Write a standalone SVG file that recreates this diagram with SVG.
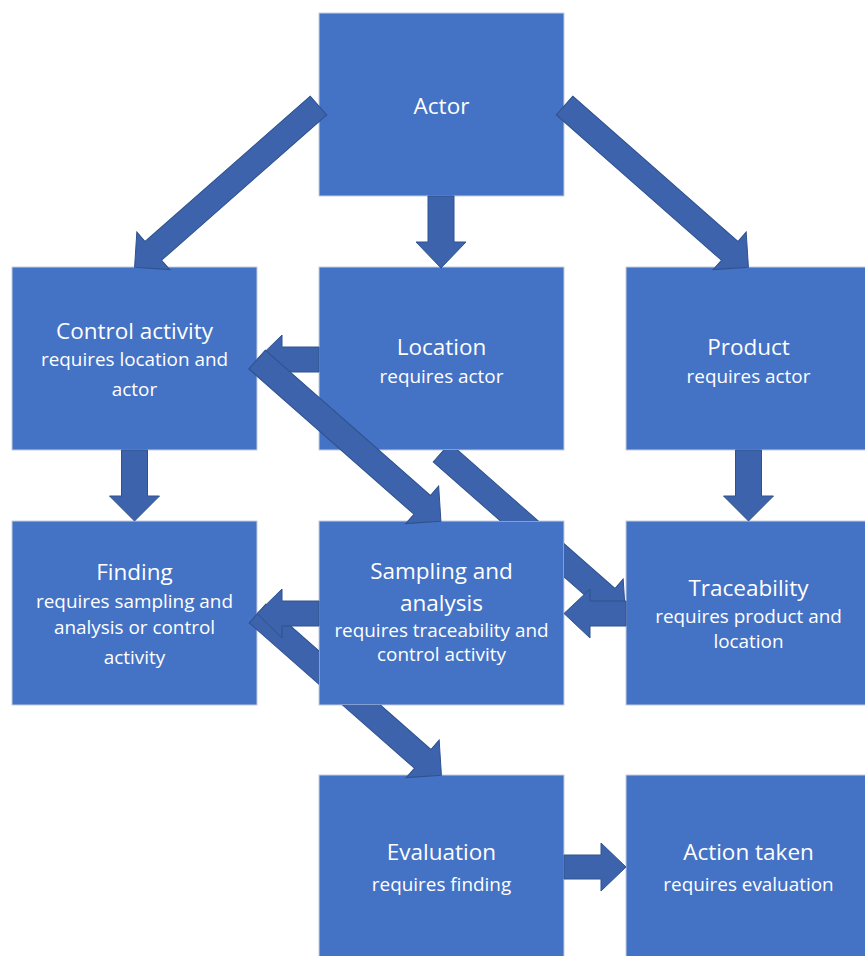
<svg xmlns="http://www.w3.org/2000/svg" xmlns:xlink="http://www.w3.org/1999/xlink" width="865" height="956" viewBox="0 0 865 956">
  <style>
    .box { fill: #4472c4; stroke: #c3cddf; stroke-width: 1; }
    .arrow { fill: #3c63ab; stroke: #2f528f; stroke-width: 1; stroke-linejoin: miter; }
    .title { font-family: "Open Sans", "Noto Sans", "Liberation Sans", sans-serif; font-size: 22.5px; fill: #ffffff; text-anchor: middle; }
    .sub { font-family: "Open Sans", "Noto Sans", "Liberation Sans", sans-serif; font-size: 18.9px; fill: #ffffff; text-anchor: middle; }
  </style>
  <defs>
    <!-- block arrow, tail at origin, tip 245px along +x -->
    <polygon id="diagArrow" points="0,-12.5 220,-12.5 220,-25 245,0 220,25 220,12.5 0,12.5"/>
    <!-- hides the parts of arrows that pass behind the middle column boxes -->
    <clipPath id="behindLocSamp">
      <path clip-rule="evenodd" d="M0 0H865V956H0Z M319 267H564V450H319Z M319 521H564V705H319Z"/>
    </clipPath>
    <clipPath id="behindSamp">
      <path clip-rule="evenodd" d="M0 0H865V956H0Z M319 521H564V705H319Z"/>
    </clipPath>
  </defs>
  <rect width="865" height="956" fill="#ffffff"/>

  <g id="actor">
    <rect class="box" x="319" y="13" width="245" height="183"/>
    <text class="title" x="441.5" y="114">Actor</text>
  </g>
  <g id="control-activity">
    <rect class="box" x="12" y="267" width="245" height="183"/>
    <text class="title" x="134.5" y="339">Control activity</text>
    <text class="sub" x="134.5" y="366">requires location and</text>
    <text class="sub" x="134.5" y="396">actor</text>
  </g>
  <g id="location">
    <rect class="box" x="319" y="267" width="245" height="183"/>
    <text class="title" x="441.5" y="355">Location</text>
    <text class="sub" x="441.5" y="383">requires actor</text>
  </g>
  <g id="product">
    <rect class="box" x="626" y="267" width="245" height="183"/>
    <text class="title" x="748.5" y="355">Product</text>
    <text class="sub" x="748.5" y="383">requires actor</text>
  </g>
  <g id="finding">
    <rect class="box" x="12" y="521" width="245" height="184"/>
    <text class="title" x="134.5" y="580">Finding</text>
    <text class="sub" x="134.5" y="608">requires sampling and</text>
    <text class="sub" x="134.5" y="634">analysis or control</text>
    <text class="sub" x="134.5" y="664">activity</text>
  </g>
  <g id="sampling-and-analysis">
    <rect class="box" x="319" y="521" width="245" height="184"/>
    <text class="title" x="441.5" y="579">Sampling and</text>
    <text class="title" x="441.5" y="611">analysis</text>
    <text class="sub" x="441.5" y="637">requires traceability and</text>
    <text class="sub" x="441.5" y="661">control activity</text>
  </g>
  <g id="traceability">
    <rect class="box" x="626" y="521" width="245" height="184"/>
    <text class="title" x="748.5" y="596">Traceability</text>
    <text class="sub" x="748.5" y="623">requires product and</text>
    <text class="sub" x="748.5" y="648">location</text>
  </g>
  <g id="evaluation">
    <rect class="box" x="319" y="775" width="245" height="190"/>
    <text class="title" x="441.5" y="860">Evaluation</text>
    <text class="sub" x="441.5" y="891">requires finding</text>
  </g>
  <g id="action-taken">
    <rect class="box" x="626" y="775" width="245" height="190"/>
    <text class="title" x="748.5" y="860">Action taken</text>
    <text class="sub" x="748.5" y="891">requires evaluation</text>
  </g>

  <g id="connectors">
    <!-- Actor to Control activity / Product -->
    <use xlink:href="#diagArrow" class="arrow" transform="translate(318.5 105.5) rotate(138.65)"/>
    <use xlink:href="#diagArrow" class="arrow" transform="translate(564.5 105.5) rotate(41.35)"/>
    <!-- Actor to Location -->
    <polygon class="arrow" points="428,196 454,196 454,242 466,242 441,268 416,242 428,242"/>
    <!-- Location to Control activity -->
    <polygon class="arrow" points="319,347 282,347 282,335 257,359.5 282,384 282,372 319,372"/>
    <!-- Control activity to Sampling and analysis -->
    <use xlink:href="#diagArrow" class="arrow" transform="translate(257 359.5) rotate(41.35)"/>
    <!-- Control activity to Finding, Product to Traceability -->
    <polygon class="arrow" points="121.5,450 147.5,450 147.5,496 159.5,496 134.5,521 109.5,496 121.5,496"/>
    <polygon class="arrow" points="735.5,450 761.5,450 761.5,496 773.5,496 748.5,521 723.5,496 735.5,496"/>
    <!-- Location to Traceability (runs behind the middle boxes) -->
    <g clip-path="url(#behindLocSamp)">
      <use xlink:href="#diagArrow" class="arrow" transform="translate(441.5 452.5) rotate(41.35)"/>
    </g>
    <!-- Traceability to Sampling and analysis -->
    <polygon class="arrow" points="626,601 590,601 590,589 564,613.5 590,638 590,626 626,626"/>
    <!-- Finding to Evaluation (runs behind Sampling and analysis) -->
    <g clip-path="url(#behindSamp)">
      <use xlink:href="#diagArrow" class="arrow" transform="translate(257.5 613.5) rotate(41.35)"/>
    </g>
    <!-- Sampling and analysis to Finding -->
    <polygon class="arrow" points="319,601 282,601 282,589 257,613.5 282,638 282,626 319,626"/>
    <!-- Evaluation to Action taken -->
    <polygon class="arrow" points="564,855 601,855 601,843 626,867 601,891 601,879 564,879"/>
  </g>
</svg>
